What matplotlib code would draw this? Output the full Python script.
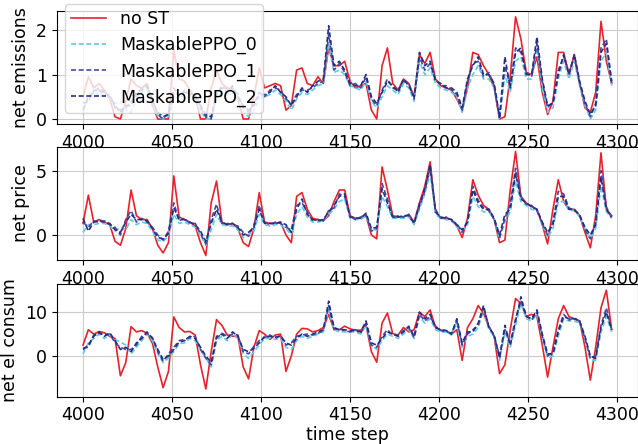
import matplotlib
matplotlib.use("Agg")
import matplotlib.pyplot as plt
import numpy as np

# time steps, sampled every 3 steps
steps = np.arange(4000, 4298, 3)

labels = ["no ST", "MaskablePPO_0", "MaskablePPO_1", "MaskablePPO_2"]

# ---- net emissions ----
em_nost = [0.5, 0.95, 0.7, 0.8, 0.65, 0.45, 0.05, 0.0, 0.4, 0.9,
           0.75, 0.7, 0.8, 0.3, 0.0, 0.0, 0.0, 1.55, 0.9, 0.85,
           0.65, 0.5, 0.0, 0.0, 0.7, 1.1, 0.8, 0.7, 0.65, 0.45,
           0.0, 0.0, 0.5, 1.15, 0.7, 0.75, 0.8, 0.75, 0.2, 0.3,
           1.1, 1.15, 0.8, 0.75, 0.95, 0.8, 1.6, 1.2, 1.2, 1.3,
           0.85, 0.7, 0.75, 0.8, 0.2, 0.0, 1.2, 1.6, 0.8, 0.65,
           0.9, 0.8, 0.5, 1.45, 1.25, 1.5, 0.9, 0.75, 0.7, 0.65,
           0.45, 0.2, 0.7, 1.5, 1.45, 1.2, 1.0, 0.7, 0.0, 0.05,
           0.95, 2.3, 1.8, 1.05, 1.0, 1.4, 0.6, 0.1, 0.4, 1.5,
           1.5, 1.0, 1.45, 0.8, 0.25, 0.15, 0.6, 2.2, 1.3, 0.8]
em_ppo0 = [0.1, 0.6, 0.5, 0.6, 0.5, 0.45, 0.35, 0.4, 0.2, 0.15,
           0.45, 0.6, 0.65, 0.35, 0.05, 0.0, 0.05, 0.5, 0.45, 0.55,
           0.5, 0.45, 0.2, 0.0, 0.0, 0.45, 0.6, 0.55, 0.65, 0.45,
           0.15, 0.05, 0.2, 0.45, 0.5, 0.55, 0.65, 0.55, 0.4, 0.2,
           0.45, 0.6, 0.55, 0.65, 0.75, 0.8, 1.7, 1.05, 1.1, 1.0,
           0.75, 0.7, 0.65, 0.85, 0.4, 0.25, 0.5, 0.75, 0.65, 0.55,
           0.8, 0.7, 0.4, 1.3, 1.0, 1.15, 0.8, 0.7, 0.65, 0.6,
           0.5, 0.15, 0.7, 1.0, 1.2, 0.9, 0.9, 0.7, 0.0, 1.0,
           0.6, 1.3, 1.4, 0.9, 0.9, 1.6, 0.7, 0.15, 0.25, 0.9,
           1.3, 0.9, 1.3, 0.75, 0.3, 0.0, 0.2, 1.3, 1.5, 0.75]
em_ppo1 = [0.35, 0.4, 0.65, 0.65, 0.55, 0.55, 0.25, 0.2, 0.25, 0.4,
           0.5, 0.7, 0.7, 0.45, 0.1, 0.0, 0.15, 0.7, 0.5, 0.65,
           0.55, 0.55, 0.25, 0.05, 0.0, 0.55, 0.75, 0.65, 0.7, 0.55,
           0.25, 0.15, 0.35, 0.6, 0.5, 0.65, 0.7, 0.65, 0.45, 0.35,
           0.55, 0.65, 0.65, 0.7, 0.8, 0.85, 1.9, 1.1, 1.25, 1.05,
           0.75, 0.8, 0.7, 0.95, 0.45, 0.3, 0.65, 0.9, 0.7, 0.65,
           0.85, 0.8, 0.45, 1.4, 1.1, 1.25, 0.9, 0.75, 0.75, 0.65,
           0.55, 0.2, 0.85, 1.25, 1.3, 0.95, 1.05, 0.75, 0.0, 1.2,
           0.75, 1.6, 1.5, 1.05, 0.95, 1.7, 0.85, 0.25, 0.4, 1.1,
           1.4, 1.05, 1.4, 0.8, 0.35, 0.05, 0.35, 1.6, 1.8, 0.8]
em_ppo2 = [0.2, 0.5, 0.6, 0.7, 0.6, 0.5, 0.3, 0.15, 0.3, 0.3,
           0.6, 0.65, 0.75, 0.4, 0.15, 0.05, 0.1, 0.6, 0.55, 0.6,
           0.6, 0.5, 0.3, 0.1, 0.05, 0.6, 0.7, 0.6, 0.75, 0.5,
           0.3, 0.2, 0.3, 0.55, 0.55, 0.6, 0.75, 0.6, 0.5, 0.3,
           0.5, 0.7, 0.6, 0.75, 0.85, 0.9, 2.1, 1.2, 1.3, 1.1,
           0.8, 0.75, 0.75, 1.0, 0.5, 0.35, 0.6, 0.85, 0.75, 0.6,
           0.9, 0.75, 0.5, 1.5, 1.2, 1.3, 0.85, 0.8, 0.7, 0.7,
           0.6, 0.25, 0.9, 1.2, 1.4, 1.0, 1.0, 0.8, 0.05, 1.4,
           0.7, 1.5, 1.6, 1.0, 1.0, 1.85, 0.9, 0.3, 0.35, 1.0,
           1.45, 1.0, 1.45, 0.85, 0.4, 0.1, 0.3, 1.5, 1.7, 0.85]

# ---- net price ----
pr_nost = [0.9, 3.1, 1.0, 1.2, 1.0, 0.8, -0.5, -0.8, 0.5, 3.5,
           1.5, 1.2, 1.2, 0.5, -0.8, -1.4, -0.6, 4.6, 1.4, 1.2,
           1.0, 0.7, -0.6, -1.6, 2.5, 4.2, 1.0, 0.8, 0.9, 0.5,
           -0.6, -0.9, 0.5, 3.3, 1.0, 0.9, 0.9, 1.0, 0.0, -0.6,
           3.0, 3.3, 2.0, 1.3, 1.2, 1.1, 1.5, 2.6, 3.5, 3.5,
           1.5, 1.3, 1.3, 1.5, 0.0, -0.3, 5.3, 3.5, 1.5, 1.4,
           1.4, 1.6, 1.0, 2.5, 3.8, 5.7, 1.8, 1.3, 1.3, 1.2,
           0.7, -0.2, 1.3, 4.3, 3.1, 2.3, 2.0, 1.2, -0.6, -0.4,
           3.5, 6.5, 3.0, 2.5, 2.2, 2.0, 0.8, -0.7, 2.0, 4.3,
           2.6, 2.0, 2.0, 1.5, 0.2, -1.0, 1.5, 6.4, 2.0, 1.5]
pr_ppo0 = [0.2, 0.8, 0.8, 0.9, 0.9, 0.7, 0.3, 0.6, 0.4, 1.2,
           0.8, 1.0, 0.9, 0.3, -0.4, -0.5, -0.1, 1.6, 0.9, 1.0,
           0.8, 0.6, 0.0, -0.8, 0.4, 1.6, 0.8, 0.7, 0.7, 0.4,
           -0.2, 0.0, 0.3, 1.6, 0.8, 0.7, 0.8, 0.8, 0.5, 0.0,
           1.6, 2.2, 1.4, 1.0, 1.0, 1.1, 1.6, 2.0, 2.6, 2.8,
           1.3, 1.2, 1.2, 1.5, 0.4, 0.4, 3.0, 2.2, 1.3, 1.3,
           1.3, 1.4, 0.8, 2.0, 3.2, 4.8, 1.6, 1.3, 1.2, 1.1,
           0.6, 0.3, 0.8, 3.0, 2.2, 1.8, 1.8, 1.2, -0.3, 1.0,
           1.8, 4.2, 2.6, 2.3, 2.0, 1.9, 0.8, -0.2, 0.5, 2.6,
           2.6, 1.9, 1.9, 1.4, 0.5, -0.3, 0.5, 3.8, 1.8, 1.3]
pr_ppo1 = [1.0, 0.6, 1.1, 1.0, 1.1, 0.8, 0.6, 0.0, 1.2, 1.9,
           1.0, 1.3, 1.0, 0.6, 0.0, -0.4, 0.3, 2.5, 1.1, 1.3,
           0.9, 0.9, 0.1, -0.7, 1.2, 2.4, 0.9, 0.9, 0.8, 0.7,
           0.2, -0.1, 0.8, 2.3, 1.0, 0.8, 1.0, 0.9, 0.6, 0.4,
           2.3, 2.5, 1.8, 1.1, 1.2, 1.1, 1.9, 2.1, 3.2, 3.0,
           1.5, 1.2, 1.4, 1.6, 0.3, 0.5, 4.0, 2.8, 1.3, 1.5,
           1.4, 1.6, 1.0, 2.2, 3.4, 5.2, 2.0, 1.3, 1.4, 1.1,
           0.9, 0.2, 1.1, 3.8, 2.7, 2.1, 1.9, 1.2, -0.2, 1.3,
           2.4, 5.2, 3.0, 2.4, 2.3, 1.9, 0.9, 0.0, 1.0, 3.4,
           3.2, 2.1, 1.9, 1.6, 0.4, -0.3, 1.0, 5.0, 2.2, 1.3]
pr_ppo2 = [1.3, 0.3, 1.0, 1.1, 1.0, 0.9, 0.4, 0.2, 1.0, 1.6,
           1.2, 1.2, 1.1, 0.5, -0.2, -0.3, 0.1, 2.1, 1.2, 1.2,
           1.0, 0.8, 0.3, -0.5, 0.9, 2.0, 1.0, 0.8, 0.9, 0.6,
           0.0, 0.2, 0.6, 2.0, 0.9, 0.9, 0.9, 1.0, 0.8, 0.2,
           2.0, 2.8, 1.6, 1.2, 1.1, 1.2, 1.8, 2.3, 3.0, 3.2,
           1.4, 1.3, 1.3, 1.7, 0.5, 0.6, 3.6, 2.5, 1.4, 1.4,
           1.5, 1.5, 0.9, 2.4, 3.6, 5.5, 1.8, 1.4, 1.3, 1.2,
           0.8, 0.4, 1.0, 3.5, 2.5, 2.0, 2.0, 1.3, 0.0, 1.6,
           2.0, 4.8, 2.8, 2.5, 2.2, 2.0, 1.0, 0.2, 0.8, 3.0,
           3.0, 2.0, 2.0, 1.5, 0.6, 0.0, 0.8, 4.5, 2.0, 1.4]

# ---- net electricity consumption ----
el_nost = [2.5, 6.0, 5.0, 5.6, 5.3, 4.5, 4.0, -4.5, -1.5, 6.7,
           5.5, 5.8, 5.2, 2.9, -2.5, -7.2, -3.5, 8.9, 6.5, 5.5,
           5.6, 4.8, -2.0, -7.5, 1.0, 8.3, 7.0, 4.8, 4.5, 4.5,
           -2.5, -5.2, 2.0, 5.8, 5.0, 3.8, 4.8, 5.0, -3.5, 0.0,
           5.0, 6.3, 6.2, 5.5, 5.8, 6.5, 9.5, 6.0, 6.0, 6.8,
           6.2, 5.9, 5.9, 7.0, 1.0, -1.4, 7.5, 9.8, 5.1, 4.8,
           6.5, 5.5, 6.0, 10.0, 9.0, 10.5, 6.5, 5.9, 5.8, 5.0,
           6.0, -1.0, 6.5, 8.5, 11.5, 9.7, 6.7, 4.4, -4.0, -2.0,
           6.0, 13.1, 12.0, 9.0, 9.5, 9.0, 2.5, -4.8, 2.0, 8.5,
           11.5, 9.0, 8.5, 8.0, 2.0, -5.5, 2.0, 11.0, 15.0, 6.0]
el_ppo0 = [0.5, 3.0, 4.0, 5.0, 4.0, 4.8, 3.8, 3.2, 2.5, 0.5,
           2.0, 3.5, 5.0, 3.5, 0.5, -1.5, -0.5, 1.0, 2.8, 3.0,
           4.0, 3.5, 1.5, -0.5, -2.5, 3.5, 4.5, 3.5, 5.0, 4.0,
           0.5, -0.5, 1.0, 2.5, 4.0, 4.0, 3.8, 4.0, 2.0, 1.5,
           3.5, 4.5, 4.0, 4.5, 5.0, 5.5, 10.5, 6.0, 5.5, 5.5,
           5.5, 5.5, 5.0, 7.0, 2.5, 1.5, 3.5, 5.0, 4.5, 4.0,
           5.0, 6.0, 4.0, 9.0, 7.5, 8.5, 6.0, 5.5, 5.5, 4.8,
           7.5, 2.0, 4.5, 5.0, 6.5, 10.5, 6.0, 4.5, -1.0, 5.5,
           2.0, 7.0, 12.0, 8.5, 8.0, 9.5, 4.5, -0.5, 0.0, 4.5,
           8.5, 8.0, 8.0, 7.5, 4.0, -0.8, -1.0, 5.5, 9.0, 5.5]
el_ppo1 = [1.8, 2.0, 4.8, 5.2, 4.8, 5.0, 3.0, 2.0, 1.5, 1.5,
           2.5, 4.5, 5.2, 4.2, 1.0, -1.2, 0.5, 2.0, 3.5, 3.8,
           4.2, 4.5, 1.5, -0.5, -2.0, 4.0, 5.2, 4.5, 5.0, 4.8,
           1.0, 0.5, 2.2, 3.5, 4.2, 4.8, 4.0, 4.8, 2.5, 3.0,
           4.5, 4.8, 5.0, 4.8, 5.2, 5.8, 11.5, 6.2, 6.2, 5.8,
           5.5, 6.0, 5.2, 7.5, 2.5, 2.0, 4.5, 6.0, 4.8, 4.8,
           5.8, 6.5, 4.2, 9.5, 8.0, 9.0, 6.8, 5.8, 5.5, 5.2,
           8.0, 2.5, 5.0, 6.0, 7.0, 11.0, 6.8, 4.5, 0.0, 6.0,
           3.0, 8.5, 12.5, 9.2, 8.2, 10.0, 4.5, 0.0, 1.0, 6.0,
           9.5, 8.2, 8.8, 7.8, 4.0, -0.5, 0.0, 7.0, 11.0, 5.8]
el_ppo2 = [1.5, 2.5, 4.5, 5.5, 4.5, 5.3, 3.5, 1.5, 2.0, 1.0,
           3.0, 4.0, 5.5, 4.0, 1.5, -0.8, 0.0, 1.5, 3.2, 3.5,
           4.5, 4.0, 2.0, 0.0, -1.5, 4.5, 5.0, 4.0, 5.5, 4.5,
           1.5, 1.0, 1.8, 3.0, 4.5, 4.5, 4.3, 4.5, 3.0, 2.5,
           4.0, 5.0, 4.5, 5.0, 5.5, 6.0, 12.5, 6.5, 6.0, 6.0,
           5.8, 5.8, 5.5, 8.0, 3.0, 2.5, 4.0, 5.5, 5.0, 4.5,
           5.5, 6.8, 4.5, 10.0, 8.5, 9.5, 6.5, 6.0, 5.8, 5.0,
           8.5, 3.0, 5.5, 5.5, 7.5, 11.5, 6.5, 4.8, -0.5, 7.0,
           2.5, 8.0, 13.5, 9.0, 8.5, 10.5, 5.0, 0.5, 0.5, 5.5,
           9.0, 8.5, 8.5, 8.0, 4.5, 0.0, -0.5, 6.5, 10.0, 6.0]

plt.rcParams['font.size'] = 12.5

colors = ['#e8222c', '#62c9e6', '#4848a4', '#252e80']
styles = ['-', '--', '--', '--']

panels = [
    ("net emissions", [em_nost, em_ppo0, em_ppo1, em_ppo2], (-0.11, 2.43), [0, 1, 2]),
    ("net price", [pr_nost, pr_ppo0, pr_ppo1, pr_ppo2], (-1.95, 6.85), [0, 5]),
    ("net el consum", [el_nost, el_ppo0, el_ppo1, el_ppo2], (-9.25, 16.4), [0, 10]),
]

fig = plt.figure(figsize=(6.38, 4.44), dpi=100)
# axes boxes in figure fractions (left, bottom, width, height)
boxes = [(0.0887, 0.721, 0.9115, 0.254),
         (0.0887, 0.4144, 0.9115, 0.2545),
         (0.0887, 0.1066, 0.9115, 0.2536)]

axes = []
for (name, series, ylim, yt), box in zip(panels, boxes):
    ax = fig.add_axes(box)
    for s, c, ls, lab in zip(series, colors, styles, labels):
        if ls == '-':
            ax.plot(steps, s, color=c, lw=1.2, label=lab)
        else:
            ax.plot(steps, s, color=c, lw=1.2, ls=ls, dashes=(3, 1.6), label=lab)
    ax.set_ylim(*ylim)
    ax.set_yticks(yt)
    ax.set_xticks([4000, 4050, 4100, 4150, 4200, 4250, 4300])
    ax.grid(True, color='#cccccc', lw=0.8)
    ax.set_ylabel(name)
    axes.append(ax)

axes[0].legend(loc='upper left', bbox_to_anchor=(0, 1.137), framealpha=0.8,
               borderpad=0.35, labelspacing=0.45)
axes[2].set_xlabel("time step", labelpad=1)

plt.savefig("out.png", dpi=100)
